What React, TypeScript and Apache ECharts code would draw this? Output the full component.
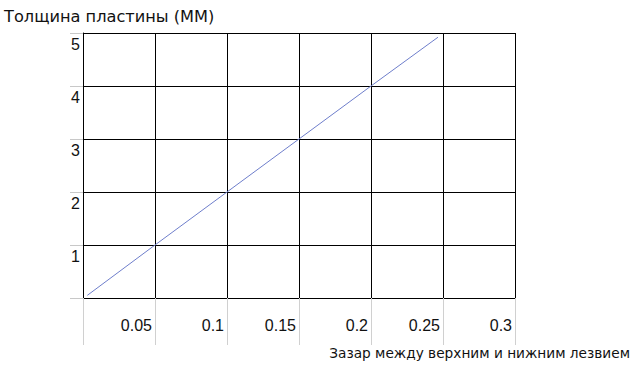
import React, { useEffect, useRef } from "react";
import * as echarts from "echarts";

const xValues = [0.003, 0.05, 0.1, 0.15, 0.2, 0.2465];
const yValues = [0.05, 1, 2, 3, 4, 4.92];
const yTitle = "Толщина пластины (ММ)";
const xTitle = "Зазар между верхним и нижним лезвием";

export default function App() {
  const ref = useRef<HTMLDivElement>(null);
  useEffect(() => {
    if (!ref.current) return;
    const chart = echarts.init(ref.current, undefined, { renderer: "svg" });
    chart.setOption({
      animation: false,
      backgroundColor: "#fff",
      grid: { left: 83, right: 124, top: 33, bottom: 73 },
      xAxis: {
        type: "value",
        min: 0,
        max: 0.3,
        interval: 0.05,
        axisLine: { show: true, lineStyle: { color: "#000", width: 1 } },
        axisTick: { show: true, length: 47, lineStyle: { color: "#d0d0d0" } },
        splitLine: { show: true, lineStyle: { color: "#000", width: 1 } },
        axisLabel: {
          color: "#111",
          fontFamily: "Liberation Sans, Arial, sans-serif",
          fontSize: 16,
          align: "right",
          margin: 19,
          padding: [0, 3, 0, 0],
          formatter: (v: number) => (v === 0 ? "" : String(+v.toFixed(2))),
        },
      },
      yAxis: {
        type: "value",
        min: 0,
        max: 5,
        interval: 1,
        axisLine: { show: true, lineStyle: { color: "#000", width: 1 } },
        axisTick: { show: true, length: 13, lineStyle: { color: "#c8c8c8" } },
        splitLine: { show: true, lineStyle: { color: "#000", width: 1 } },
        axisLabel: {
          color: "#111",
          fontFamily: "Liberation Sans, Arial, sans-serif",
          fontSize: 16,
          align: "right",
          verticalAlign: "top",
          margin: 3,
          padding: [3, 0, 0, 0],
          formatter: (v: number) => (v === 0 ? "" : String(v)),
        },
      },
      series: [
        {
          type: "line",
          data: xValues.map((x, i) => [x, yValues[i]]),
          showSymbol: false,
          lineStyle: { color: "#6e7ecb", width: 1 },
        },
      ],
      graphic: [
        {
          type: "text",
          left: 4,
          top: 8,
          style: {
            text: yTitle,
            fontFamily: "DejaVu Sans, Verdana, sans-serif",
            fontSize: 16.2,
            fill: "#111",
          },
        },
        {
          type: "text",
          right: 9,
          top: 346,
          style: {
            text: xTitle,
            fontFamily: "DejaVu Sans, Verdana, sans-serif",
            fontSize: 13.7,
            fill: "#111",
          },
        },
      ],
    });
    return () => chart.dispose();
  }, []);
  return <div ref={ref} style={{ width: 639, height: 371, position: "absolute", left: 0, top: 0 }} />;
}
